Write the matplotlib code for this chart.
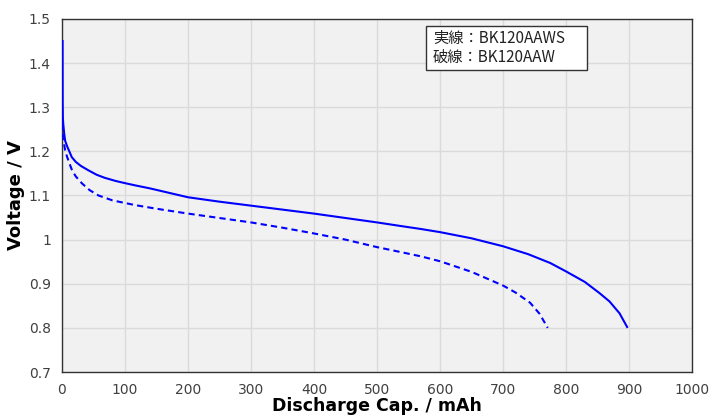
import matplotlib
matplotlib.use("Agg")
from matplotlib import pyplot as plt
from matplotlib.patches import Rectangle

# solid: BK120AAWS
cap_aws = [0.9, 1.0, 1.1, 1.4, 2, 3.5, 5, 8, 11, 15.5, 22, 30, 42, 55, 68, 85, 100, 116, 140, 170,
           200, 250, 300, 350, 400, 450, 500, 537, 570, 600, 650, 700, 740, 775, 800, 830, 853, 869,
           885, 897]
volt_aws = [1.45, 1.38, 1.31, 1.275, 1.262, 1.24, 1.224, 1.212, 1.202, 1.187, 1.176, 1.167, 1.157,
            1.147, 1.140, 1.133, 1.128, 1.123, 1.116, 1.106, 1.096, 1.086, 1.077, 1.068, 1.059, 1.049,
            1.039, 1.031, 1.024, 1.017, 1.003, 0.985, 0.967, 0.947, 0.928, 0.904, 0.879, 0.860,
            0.833, 0.802]

# dashed: BK120AAW
cap_aw = [0.9, 1.3, 2, 3.5, 5, 8, 12, 16, 22, 32, 44, 58, 80, 100, 117, 150, 200, 250, 300, 350, 400,
          450, 500, 537, 570, 600, 650, 700, 720, 743, 758, 771]
volt_aw = [1.263, 1.248, 1.232, 1.215, 1.202, 1.188, 1.172, 1.157, 1.143, 1.127, 1.112, 1.100, 1.089,
           1.083, 1.078, 1.070, 1.059, 1.049, 1.039, 1.027, 1.014, 1.000, 0.983, 0.972, 0.962, 0.951,
           0.927, 0.896, 0.880, 0.857, 0.832, 0.800]

xticks = [0, 100, 200, 300, 400, 500, 600, 700, 800, 900, 1000]
yticks = [0.7, 0.8, 0.9, 1.0, 1.1, 1.2, 1.3, 1.4, 1.5]
ytick_labels = ['0.7', '0.8', '0.9', '1', '1.1', '1.2', '1.3', '1.4', '1.5']

fig = plt.figure(figsize=(7.1, 4.16), dpi=100)
ax = fig.add_axes([62/710, 1-372/416, (692-62)/710, (372-19)/416])
ax.set_facecolor('#f1f1f1')

ax.plot(cap_aws, volt_aws, color='#0000ff', lw=1.5, zorder=3)
ax.plot(cap_aw, volt_aw, color='#0000ff', lw=1.5, linestyle=(0, (3, 2)), zorder=3)

ax.set_xlim(0, 1000)
ax.set_ylim(0.7, 1.5)
ax.set_xticks(xticks)
ax.set_yticks(yticks)
ax.set_yticklabels(ytick_labels)
ax.grid(True, color='#dadada', lw=1)
ax.set_axisbelow(True)
ax.tick_params(length=0, labelsize=10, colors='#404040', pad=8)
for s in ax.spines.values():
    s.set_color('#333333')
    s.set_linewidth(1)

ax.set_xlabel('Discharge Cap. / mAh', fontsize=12.5, fontweight='bold', va='top')
ax.xaxis.set_label_coords(0.5, -0.072)
ax.set_ylabel('Voltage / V', fontsize=13, fontweight='bold')
ax.yaxis.set_label_coords(-0.058, 0.5)

# legend-like note box
ax.add_patch(Rectangle((0.578, 0.856), 0.255, 0.124, transform=ax.transAxes,
                       facecolor='white', edgecolor='#333333', lw=1, zorder=5))
ax.text(0.589, 0.946, '実線：BK120AAWS', transform=ax.transAxes, ha='left', va='center',
        fontsize=11, family=['Noto Sans CJK JP', 'DejaVu Sans'], color='#222222', zorder=6)
ax.text(0.589, 0.893, '破線：BK120AAW', transform=ax.transAxes, ha='left', va='center',
        fontsize=11, family=['Noto Sans CJK JP', 'DejaVu Sans'], color='#222222', zorder=6)

fig.savefig('out.png', dpi=100)
